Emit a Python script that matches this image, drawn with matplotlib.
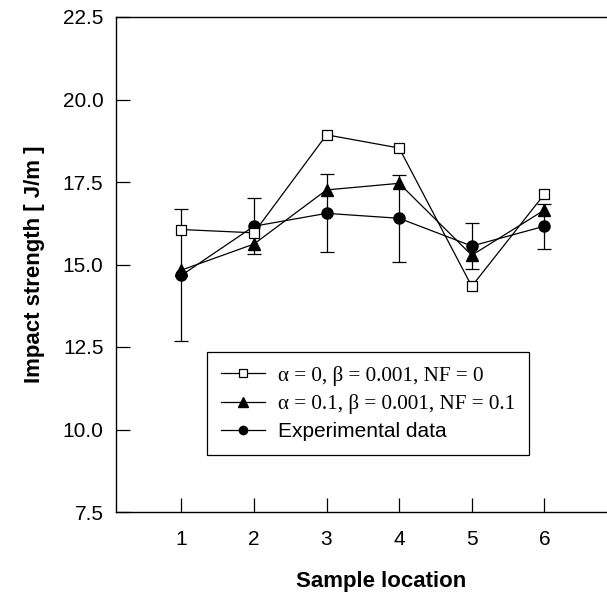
import matplotlib
matplotlib.use("Agg")
import matplotlib.pyplot as plt
from matplotlib.lines import Line2D

# sample locations
locations = [1, 2, 3, 4, 5, 6]

# model: alpha = 0, beta = 0.001, NF = 0
model_a = [16.06, 15.96, 18.93, 18.53, 14.34, 17.13]
# model: alpha = 0.1, beta = 0.001, NF = 0.1
model_b = [14.83, 15.62, 17.26, 17.46, 15.28, 16.65]
# experimental data and its error bars
exp_mean = [14.67, 16.16, 16.55, 16.40, 15.56, 16.16]
exp_err = [2.00, 0.85, 1.18, 1.32, 0.71, 0.68]

labels = ["\u03b1 = 0, \u03b2 = 0.001, NF = 0",
          "\u03b1 = 0.1, \u03b2 = 0.001, NF = 0.1",
          "Experimental data"]

yticks = [7.5, 10.0, 12.5, 15.0, 17.5, 20.0, 22.5]

plt.rcParams["font.family"] = ["Liberation Sans", "DejaVu Sans"]

fig = plt.figure(figsize=(6.07, 5.94), dpi=100)
ax = fig.add_axes([116 / 607, 82 / 594, 530 / 607, 495 / 594])

la, = ax.plot(locations, model_a, color="black", lw=0.9, marker="s", ms=7,
              mfc="white", mec="black", mew=0.9, zorder=3)
lb, = ax.plot(locations, model_b, color="black", lw=0.9, marker="^", ms=8,
              mfc="black", mec="black", zorder=3)
ax.errorbar(locations, exp_mean, yerr=exp_err, color="black", lw=0.9,
            marker="o", ms=8, mfc="black", mec="black", elinewidth=0.9,
            capsize=5, capthick=0.9, zorder=2)
lc = Line2D([], [], color="black", lw=0.9, marker="o", ms=7, mfc="black", mec="black")

ax.set_xlim(0.1, 7.4)
ax.set_ylim(7.5, 22.5)
ax.set_xticks(locations)
ax.set_yticks(yticks)
ax.set_yticklabels([f"{v:.1f}" for v in yticks])
ax.tick_params(direction="in", length=10, width=0.9, labelsize=15)
ax.tick_params(axis="x", pad=13)
ax.tick_params(axis="y", pad=9)
for s in ax.spines.values():
    s.set_linewidth(1.0)

ax.set_xlabel("Sample location", fontsize=16, fontweight="bold", labelpad=16)
ax.set_ylabel("Impact strength [ J/m ]", fontsize=16, fontweight="bold", labelpad=13)

leg = ax.legend([la, lb, lc], labels, loc="upper left",
                bbox_to_anchor=(207 / 607, 1 - 352 / 594),
                bbox_transform=fig.transFigure, borderaxespad=0, fontsize=15,
                fancybox=False, shadow=False, framealpha=1, edgecolor="black",
                handlelength=2.15, handletextpad=0.6, labelspacing=0.4,
                borderpad=0.65, markerscale=0.85)
leg.get_frame().set_linewidth(0.9)
for t in leg.get_texts()[:2]:
    t.set_fontfamily(["Liberation Serif", "DejaVu Serif"])
    t.set_fontsize(15.2)

fig.savefig("out.png", dpi=100)
